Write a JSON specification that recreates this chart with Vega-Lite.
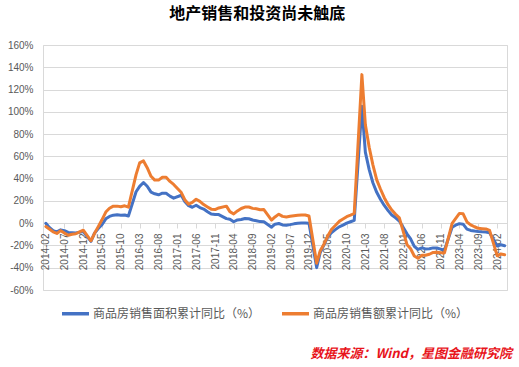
{
  "$schema": "https://vega.github.io/schema/vega-lite/v6.json",
  "background": "white",
  "padding": {"left": 6, "top": 5, "right": 7, "bottom": 3},
  "title": {"text": "数据来源：Wind，星图金融研究院", "orient": "bottom", "anchor": "end", "frame": "group", "color": "#e8141b", "fontStyle": "italic", "fontWeight": "bold", "fontSize": 13, "font": "Noto Sans CJK SC", "offset": 27, "dx": 5},
  "config": {"view": {"stroke": "#d9d9d9"}, "font": "Liberation Sans"},
  "vconcat": [
    {
      "width": 464,
      "height": 245,
      "title": {"text": "地产销售和投资尚未触底", "font": "Noto Sans CJK SC", "fontSize": 16, "fontWeight": "bold", "color": "#000000", "anchor": "middle", "frame": "bounds", "offset": 18},
      "data": {
        "values": [
          {"month": "2014-02", "area": -0.1, "sales": -3.0},
          {"month": "2014-03", "area": -3.8, "sales": -5.2},
          {"month": "2014-04", "area": -6.8, "sales": -7.8},
          {"month": "2014-05", "area": -7.8, "sales": -9.2},
          {"month": "2014-06", "area": -6.0, "sales": -6.7},
          {"month": "2014-07", "area": -6.7, "sales": -8.9},
          {"month": "2014-08", "area": -8.3, "sales": -10.8},
          {"month": "2014-09", "area": -8.6, "sales": -9.9},
          {"month": "2014-10", "area": -8.9, "sales": -9.5},
          {"month": "2014-11", "area": -8.2, "sales": -7.8},
          {"month": "2014-12", "area": -7.6, "sales": -6.3},
          {"month": "2015-02", "area": -16.3, "sales": -15.8},
          {"month": "2015-03", "area": -9.2, "sales": -9.3},
          {"month": "2015-04", "area": -4.8, "sales": -3.1},
          {"month": "2015-05", "area": -1.4, "sales": 3.0},
          {"month": "2015-06", "area": 3.9, "sales": 10.0},
          {"month": "2015-07", "area": 6.1, "sales": 13.4},
          {"month": "2015-08", "area": 7.2, "sales": 15.3},
          {"month": "2015-09", "area": 7.5, "sales": 15.3},
          {"month": "2015-10", "area": 7.2, "sales": 14.7},
          {"month": "2015-11", "area": 7.4, "sales": 15.6},
          {"month": "2015-12", "area": 6.5, "sales": 14.4},
          {"month": "2016-02", "area": 28.2, "sales": 43.6},
          {"month": "2016-03", "area": 33.1, "sales": 54.1},
          {"month": "2016-04", "area": 36.5, "sales": 55.9},
          {"month": "2016-05", "area": 33.2, "sales": 49.8},
          {"month": "2016-06", "area": 27.9, "sales": 42.1},
          {"month": "2016-07", "area": 26.4, "sales": 38.7},
          {"month": "2016-08", "area": 25.5, "sales": 38.7},
          {"month": "2016-09", "area": 26.9, "sales": 41.3},
          {"month": "2016-10", "area": 26.8, "sales": 41.2},
          {"month": "2016-11", "area": 24.3, "sales": 37.5},
          {"month": "2016-12", "area": 22.5, "sales": 34.8},
          {"month": "2017-02", "area": 25.1, "sales": 27.5},
          {"month": "2017-03", "area": 19.5, "sales": 21.1},
          {"month": "2017-04", "area": 15.7, "sales": 17.0},
          {"month": "2017-05", "area": 14.3, "sales": 18.6},
          {"month": "2017-06", "area": 16.1, "sales": 21.5},
          {"month": "2017-07", "area": 14.0, "sales": 19.6},
          {"month": "2017-08", "area": 12.7, "sales": 16.7},
          {"month": "2017-09", "area": 10.3, "sales": 14.6},
          {"month": "2017-10", "area": 8.2, "sales": 12.6},
          {"month": "2017-11", "area": 7.9, "sales": 12.2},
          {"month": "2017-12", "area": 7.7, "sales": 13.7},
          {"month": "2018-02", "area": 4.1, "sales": 15.3},
          {"month": "2018-03", "area": 3.6, "sales": 10.4},
          {"month": "2018-04", "area": 1.3, "sales": 8.3},
          {"month": "2018-05", "area": 2.9, "sales": 11.0},
          {"month": "2018-06", "area": 3.3, "sales": 13.2},
          {"month": "2018-07", "area": 4.2, "sales": 14.5},
          {"month": "2018-08", "area": 4.0, "sales": 14.5},
          {"month": "2018-09", "area": 2.9, "sales": 13.3},
          {"month": "2018-10", "area": 2.2, "sales": 13.0},
          {"month": "2018-11", "area": 1.4, "sales": 12.1},
          {"month": "2018-12", "area": 1.3, "sales": 12.2},
          {"month": "2019-02", "area": -3.6, "sales": 2.8},
          {"month": "2019-03", "area": -0.9, "sales": 5.6},
          {"month": "2019-04", "area": -0.3, "sales": 8.1},
          {"month": "2019-05", "area": -1.6, "sales": 6.1},
          {"month": "2019-06", "area": -1.8, "sales": 5.6},
          {"month": "2019-07", "area": -1.3, "sales": 6.2},
          {"month": "2019-08", "area": -0.6, "sales": 6.7},
          {"month": "2019-09", "area": -0.1, "sales": 7.1},
          {"month": "2019-10", "area": 0.1, "sales": 7.3},
          {"month": "2019-11", "area": 0.2, "sales": 7.3},
          {"month": "2019-12", "area": -0.1, "sales": 6.5},
          {"month": "2020-02", "area": -39.9, "sales": -35.9},
          {"month": "2020-03", "area": -26.3, "sales": -24.7},
          {"month": "2020-04", "area": -19.3, "sales": -18.6},
          {"month": "2020-05", "area": -12.3, "sales": -11.6},
          {"month": "2020-06", "area": -8.4, "sales": -5.4},
          {"month": "2020-07", "area": -5.8, "sales": -2.1},
          {"month": "2020-08", "area": -3.3, "sales": 1.6},
          {"month": "2020-09", "area": -1.8, "sales": 3.7},
          {"month": "2020-10", "area": 0.0, "sales": 5.8},
          {"month": "2020-11", "area": 1.3, "sales": 7.2},
          {"month": "2020-12", "area": 2.6, "sales": 8.7},
          {"month": "2021-02", "area": 104.9, "sales": 133.4},
          {"month": "2021-03", "area": 63.8, "sales": 88.5},
          {"month": "2021-04", "area": 48.1, "sales": 68.2},
          {"month": "2021-05", "area": 36.3, "sales": 52.4},
          {"month": "2021-06", "area": 27.7, "sales": 38.9},
          {"month": "2021-07", "area": 21.5, "sales": 30.7},
          {"month": "2021-08", "area": 15.9, "sales": 22.9},
          {"month": "2021-09", "area": 11.3, "sales": 16.6},
          {"month": "2021-10", "area": 7.3, "sales": 11.8},
          {"month": "2021-11", "area": 4.8, "sales": 8.0},
          {"month": "2021-12", "area": 1.9, "sales": 4.8},
          {"month": "2022-02", "area": -9.6, "sales": -19.3},
          {"month": "2022-03", "area": -13.8, "sales": -22.7},
          {"month": "2022-04", "area": -20.9, "sales": -29.5},
          {"month": "2022-05", "area": -23.6, "sales": -31.5},
          {"month": "2022-06", "area": -22.2, "sales": -28.9},
          {"month": "2022-07", "area": -23.1, "sales": -28.8},
          {"month": "2022-08", "area": -23.0, "sales": -27.9},
          {"month": "2022-09", "area": -22.2, "sales": -26.3},
          {"month": "2022-10", "area": -22.3, "sales": -26.1},
          {"month": "2022-11", "area": -23.3, "sales": -26.6},
          {"month": "2022-12", "area": -24.3, "sales": -26.7},
          {"month": "2023-02", "area": -3.6, "sales": -0.1},
          {"month": "2023-03", "area": -1.8, "sales": 4.1},
          {"month": "2023-04", "area": -0.4, "sales": 8.8},
          {"month": "2023-05", "area": -0.9, "sales": 8.4},
          {"month": "2023-06", "area": -5.3, "sales": 1.1},
          {"month": "2023-07", "area": -6.5, "sales": -1.5},
          {"month": "2023-08", "area": -7.1, "sales": -3.2},
          {"month": "2023-09", "area": -7.5, "sales": -4.6},
          {"month": "2023-10", "area": -7.8, "sales": -4.9},
          {"month": "2023-11", "area": -8.0, "sales": -5.2},
          {"month": "2023-12", "area": -8.5, "sales": -6.5},
          {"month": "2024-02", "area": -20.5, "sales": -29.3},
          {"month": "2024-03", "area": -19.4, "sales": -27.6},
          {"month": "2024-04", "area": -20.2, "sales": -28.3}
        ],
        "format": {"parse": {"month": "date:'%Y-%m'"}}
      },
      "transform": [{"fold": ["area", "sales"], "as": ["series", "value"]}],
      "mark": {"type": "line", "strokeWidth": 3, "strokeJoin": "round", "strokeCap": "round"},
      "encoding": {
        "x": {
          "field": "month", "type": "temporal",
          "scale": {"domain": [{"year": 2014, "month": 1, "date": 9}, {"year": 2024, "month": 4, "date": 20}]},
          "axis": {
            "title": null, "format": "%Y-%m", "labelAngle": 270, "labelFontSize": 10, "labelColor": "#595959",
            "labelOverlap": false, "labelFlush": false, "labelPadding": 5,
            "tickSize": 5, "tickColor": "#d9d9d9", "domainColor": "#d9d9d9", "grid": false, "offset": -67,
            "values": [
              {"year": 2014, "month": 2, "date": 1}, {"year": 2014, "month": 7, "date": 1}, {"year": 2014, "month": 12, "date": 1},
              {"year": 2015, "month": 5, "date": 1}, {"year": 2015, "month": 10, "date": 1}, {"year": 2016, "month": 3, "date": 1},
              {"year": 2016, "month": 8, "date": 1}, {"year": 2017, "month": 1, "date": 1}, {"year": 2017, "month": 6, "date": 1},
              {"year": 2017, "month": 11, "date": 1}, {"year": 2018, "month": 4, "date": 1}, {"year": 2018, "month": 9, "date": 1},
              {"year": 2019, "month": 2, "date": 1}, {"year": 2019, "month": 7, "date": 1}, {"year": 2019, "month": 12, "date": 1},
              {"year": 2020, "month": 5, "date": 1}, {"year": 2020, "month": 10, "date": 1}, {"year": 2021, "month": 3, "date": 1},
              {"year": 2021, "month": 8, "date": 1}, {"year": 2022, "month": 1, "date": 1}, {"year": 2022, "month": 6, "date": 1},
              {"year": 2022, "month": 11, "date": 1}, {"year": 2023, "month": 4, "date": 1}, {"year": 2023, "month": 9, "date": 1},
              {"year": 2024, "month": 2, "date": 1}
            ]
          }
        },
        "y": {
          "field": "value", "type": "quantitative",
          "scale": {"domain": [-60, 160], "nice": false},
          "axis": {
            "title": null, "values": [-60, -40, -20, 0, 20, 40, 60, 80, 100, 120, 140, 160],
            "labelExpr": "datum.value + '%'", "labelFontSize": 10, "labelColor": "#595959", "labelPadding": 10,
            "ticks": false, "domain": false, "grid": true, "gridColor": "#d9d9d9"
          }
        },
        "color": {
          "field": "series", "type": "nominal",
          "scale": {"domain": ["area", "sales"], "range": ["#4472C4", "#ED7D31"]},
          "legend": {
            "title": null, "orient": "none", "legendX": 17, "legendY": 253, "direction": "horizontal",
            "labelExpr": "datum.label == 'area' ? '商品房销售面积累计同比（%）' : '商品房销售额累计同比（%）'",
            "labelFont": "Noto Sans CJK SC", "labelFontSize": 12, "labelColor": "#595959", "labelLimit": 300,
            "symbolType": "stroke", "symbolSize": 729, "symbolStrokeWidth": 3.5, "labelOffset": 2,
            "columnPadding": 14
          }
        }
      }
    }
  ]
}
